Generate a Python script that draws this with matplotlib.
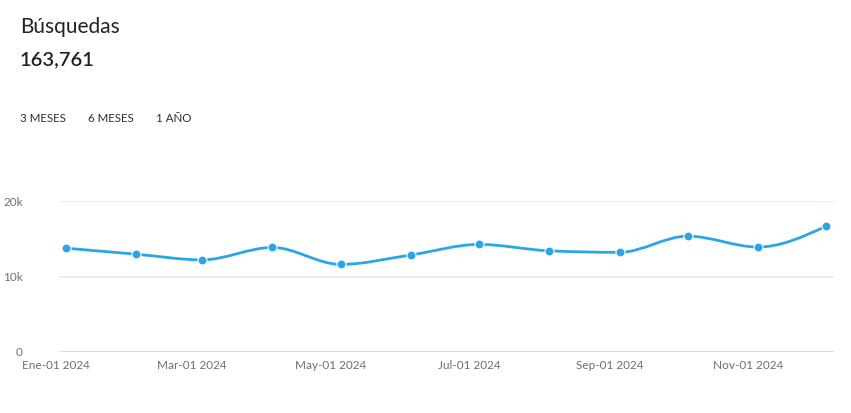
import matplotlib
matplotlib.use("Agg")
import matplotlib.pyplot as plt
import matplotlib.dates as mdates
import matplotlib.transforms as mtransforms
from matplotlib.path import Path
from matplotlib.patches import PathPatch
from datetime import datetime, timedelta

months = ["2024-01-01", "2024-02-01", "2024-03-01", "2024-04-01", "2024-05-01", "2024-06-01",
          "2024-07-01", "2024-08-01", "2024-09-01", "2024-10-01", "2024-11-01", "2024-12-01"]
searches = [13750, 12950, 12200, 13850, 11600, 12850, 14250, 13400, 13200, 15350, 13900, 16661]
tick_months = ["2024-01-01", "2024-03-01", "2024-05-01", "2024-07-01", "2024-09-01", "2024-11-01"]
tick_labels = ["Ene-01 2024", "Mar-01 2024", "May-01 2024", "Jul-01 2024", "Sep-01 2024", "Nov-01 2024"]
y_ticks = [0, 10000, 20000]
y_labels = ["0", "10k", "20k"]
total = "163,761"
ranges = ["3 MESES", "6 MESES", "1 AÑO"]

LINE = "#2aa6e6"
plt.rcParams["font.family"] = ["Lato", "DejaVu Sans"]

dates = [datetime.strptime(d, "%Y-%m-%d") for d in months]
xs = mdates.date2num(dates)
ys = searches


def monotone_path(x, y):
    # monotone cubic (like d3 curveMonotoneX) as bezier segments
    n = len(x)
    h = [x[i + 1] - x[i] for i in range(n - 1)]
    s = [(y[i + 1] - y[i]) / h[i] for i in range(n - 1)]
    t = [0.0] * n
    for i in range(1, n - 1):
        if s[i - 1] * s[i] <= 0:
            t[i] = 0.0
        else:
            p = (s[i - 1] * h[i] + s[i] * h[i - 1]) / (h[i - 1] + h[i])
            t[i] = (1 if s[i] > 0 else -1) * min(2 * abs(s[i - 1]), 2 * abs(s[i]), abs(p))
    t[0] = (3 * s[0] - t[1]) / 2
    t[-1] = (3 * s[-1] - t[-2]) / 2
    verts = [(x[0], y[0])]
    codes = [Path.MOVETO]
    for i in range(n - 1):
        dx = h[i] / 3
        verts += [(x[i] + dx, y[i] + dx * t[i]), (x[i + 1] - dx, y[i + 1] - dx * t[i + 1]), (x[i + 1], y[i + 1])]
        codes += [Path.CURVE4] * 3
    return Path(verts, codes)


fig = plt.figure(figsize=(8.51, 4.13), dpi=100)
fig.patch.set_facecolor("white")

fig.text(20 / 851, 1 - 27 / 413, "Búsquedas", fontsize=15, color="#1f2328", va="center", ha="left")
fig.text(20 / 851, 1 - 60 / 413, total, fontsize=14.5, color="#1f2328", va="center", ha="left", fontweight="semibold")
for label, px in zip(ranges, [20, 88, 156]):
    fig.text(px / 851, 1 - 118 / 413, label, fontsize=8.3, color="#2a2e33", va="center", ha="left")

ax = fig.add_axes([59 / 851, (413 - 352) / 413, 775 / 851, 151 / 413])
ax.set_xlim(dates[0] - timedelta(days=3.1), dates[-1] + timedelta(days=3.5))
ax.set_ylim(0, 20000)

for yv in y_ticks[1:]:
    ax.axhline(yv, color="#e8e9eb", linewidth=1.2, zorder=0)
ax.axhline(0, color="#d5d8de", linewidth=2, zorder=0)

ax.add_patch(PathPatch(monotone_path(list(xs), ys), facecolor="none", edgecolor=LINE,
                       linewidth=2, zorder=2, clip_on=False))
ax.scatter(dates, ys, s=42, color=LINE, edgecolor="white", linewidth=0.8, zorder=3, clip_on=False)

for s in ax.spines.values():
    s.set_visible(False)

ax.set_yticks(y_ticks)
ax.set_yticklabels(y_labels)
ax.tick_params(axis="y", length=0, pad=26, labelsize=8.5, labelcolor="#6b7076")
for lbl in ax.get_yticklabels():
    lbl.set_horizontalalignment("right")

tick_dates = [datetime.strptime(d, "%Y-%m-%d") for d in tick_months]
ax.set_xticks(tick_dates)
ax.set_xticklabels(tick_labels)
ax.tick_params(axis="x", length=0, pad=6, labelsize=8.5, labelcolor="#6b7076")
shift = mtransforms.ScaledTranslation(-10 / 100, 0, fig.dpi_scale_trans)
for lbl in ax.get_xticklabels():
    lbl.set_transform(lbl.get_transform() + shift)

fig.savefig("out.png", dpi=100, facecolor="white")
